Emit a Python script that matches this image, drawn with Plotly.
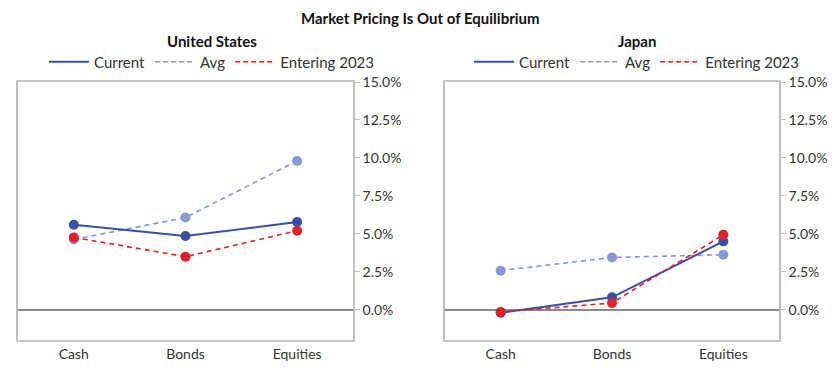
import plotly.graph_objects as go

categories = ["Cash", "Bonds", "Equities"]
us_current = [5.59, 4.85, 5.77]
us_avg = [4.62, 6.07, 9.8]
us_entering = [4.76, 3.49, 5.2]
jp_current = [-0.2, 0.81, 4.5]
jp_avg = [2.57, 3.44, 3.62]
jp_entering = [-0.15, 0.44, 4.93]
y_ticks = [0, 2.5, 5, 7.5, 10, 12.5, 15]

C_CUR = "#3b4ea2"
C_AVG = "#8a97d4"
C_ENT = "#e21f2b"
FONT = "Lato"

W, H, OFF = 840, 378, 8  # page body margin offset compensation


def fx(px):
    return (px - OFF) / W


def fy(py):
    return 1 - (py - OFF) / H


fig = go.Figure()


def add_panel(xa, ya, cur, avg, ent, legend):
    fig.add_trace(go.Scatter(x=categories, y=avg, mode="lines+markers", xaxis=xa, yaxis=ya,
                             line=dict(color=C_AVG, width=1.6, dash="5px,4px"),
                             marker=dict(size=10, color=C_AVG), showlegend=False))
    fig.add_trace(go.Scatter(x=categories, y=cur, mode="lines+markers", xaxis=xa, yaxis=ya,
                             line=dict(color=C_CUR, width=2),
                             marker=dict(size=10, color=C_CUR), showlegend=False))
    fig.add_trace(go.Scatter(x=categories, y=ent, mode="lines+markers", xaxis=xa, yaxis=ya,
                             line=dict(color=C_ENT, width=1.6, dash="5px,4px"),
                             marker=dict(size=10, color=C_ENT), showlegend=False))
    for name, col, dash in [("Current", C_CUR, "solid"), ("Avg", "#9a9a9a", "5px,3px"),
                            ("Entering 2023", C_ENT, "5px,3px")]:
        fig.add_trace(go.Scatter(x=[None], y=[None], mode="lines", name=name, xaxis=xa, yaxis=ya,
                                 line=dict(color=col, width=2 if dash == "solid" else 1.6, dash=dash),
                                 legend=legend, showlegend=True))


add_panel("x", "y", us_current, us_avg, us_entering, "legend")
add_panel("x2", "y2", jp_current, jp_avg, jp_entering, "legend2")

xaxis_common = dict(range=[-0.5, 2.5], showline=True, linecolor="#c8c8c8", linewidth=1.5, mirror=True,
                    showgrid=False, zeroline=False, ticks="", tickfont=dict(size=14, color="#333"),
                    fixedrange=True, automargin=False)
yaxis_common = dict(range=[-2, 15], side="right", tickvals=y_ticks,
                    ticktext=[f"{v:.1f}%" for v in y_ticks], showline=True, linecolor="#bdbdbd",
                    linewidth=1.5, mirror=True, ticks="outside", ticklen=5, tickcolor="#bdbdbd",
                    showgrid=False, zeroline=True, zerolinecolor="#8a8a8a", zerolinewidth=1.5,
                    tickfont=dict(size=14, color="#333"), automargin=False)

leg_common = dict(orientation="h", xanchor="center", y=fy(62), yanchor="middle",
                  font=dict(size=15, color="#333"), bgcolor="rgba(0,0,0,0)", itemwidth=40)

fig.update_layout(
    width=W, height=H,
    margin=dict(l=0, r=0, t=0, b=0, autoexpand=False),
    paper_bgcolor="white", plot_bgcolor="white",
    font=dict(family=FONT, color="#333"),
    xaxis=dict(domain=[fx(18), fx(353)], anchor="y", **xaxis_common),
    yaxis=dict(domain=[fy(340), fy(82)], anchor="x", **yaxis_common),
    xaxis2=dict(domain=[fx(445), fx(779)], anchor="y2", **xaxis_common),
    yaxis2=dict(domain=[fy(340), fy(82)], anchor="x2", **yaxis_common),
    legend=dict(x=fx(212), **leg_common),
    legend2=dict(x=fx(637), **leg_common),
    annotations=[
        dict(text="<b>Market Pricing Is Out of Equilibrium</b>", x=fx(420), y=fy(18), xref="paper",
             yref="paper", showarrow=False, xanchor="center", yanchor="middle",
             font=dict(size=15, color="#111")),
        dict(text="<b>United States</b>", x=fx(212), y=fy(41), xref="paper", yref="paper",
             showarrow=False, xanchor="center", yanchor="middle", font=dict(size=15, color="#111")),
        dict(text="<b>Japan</b>", x=fx(637), y=fy(41), xref="paper", yref="paper",
             showarrow=False, xanchor="center", yanchor="middle", font=dict(size=15, color="#111")),
    ],
)

fig.write_html("out.html")
